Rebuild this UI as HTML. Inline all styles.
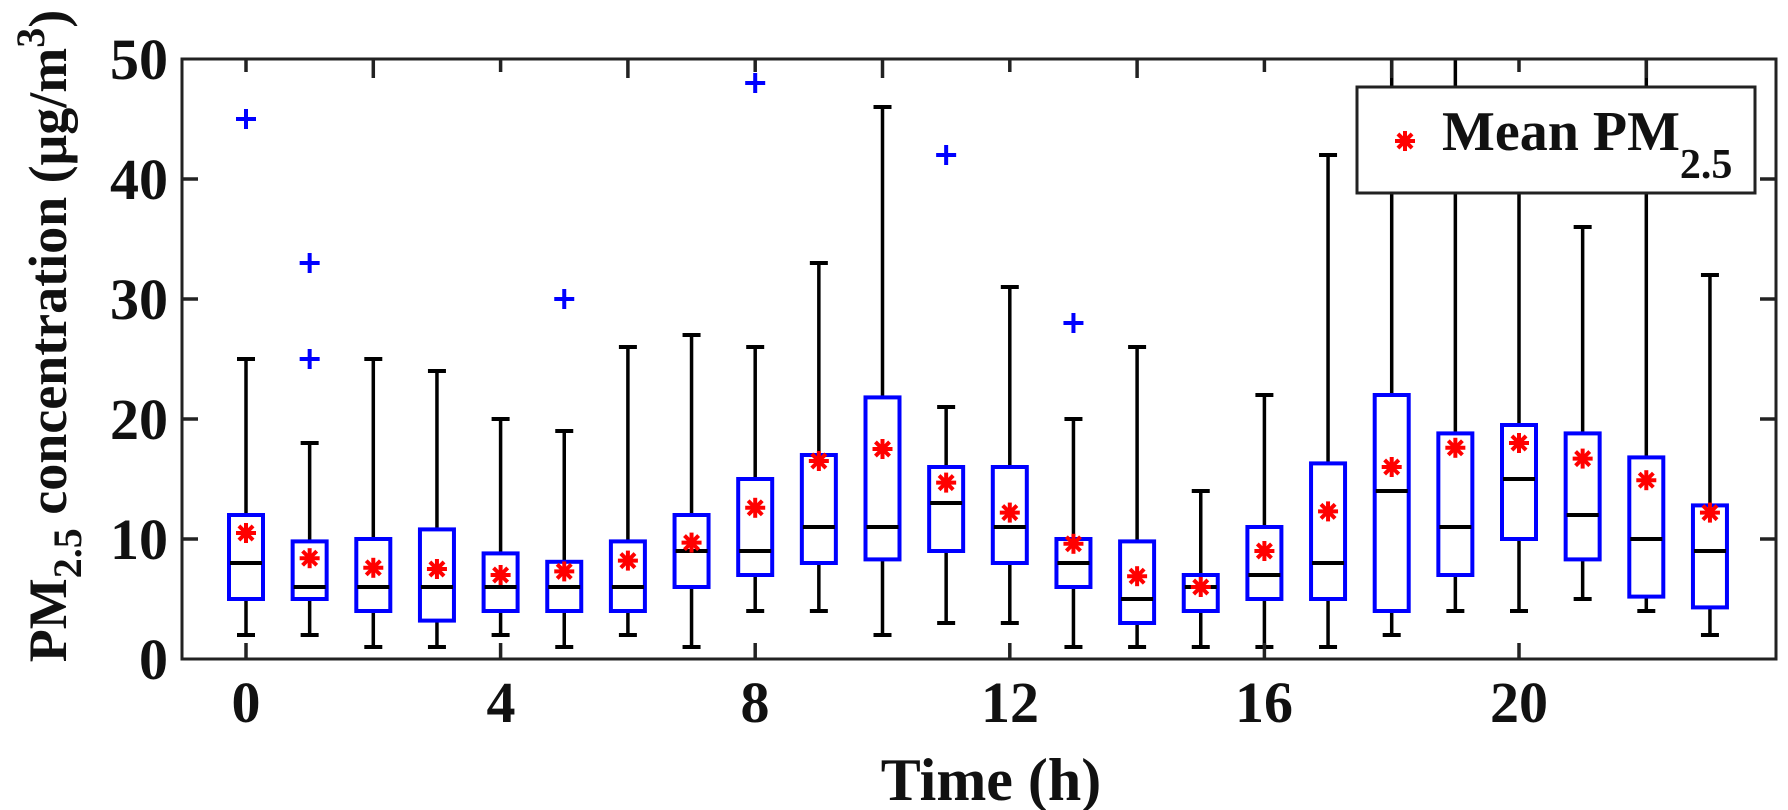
<!DOCTYPE html>
<html><head><meta charset="utf-8"><style>
html,body{margin:0;padding:0;background:#fff;}
svg{display:block;}
text{font-family:"Liberation Serif",serif;font-weight:bold;fill:#111;}
</style></head><body>
<svg id="s" width="1788" height="810" xmlns="http://www.w3.org/2000/svg">
<defs><clipPath id="c"><rect x="182" y="59" width="1594" height="600"/></clipPath></defs>
<g id="plot" clip-path="url(#c)"></g>
<rect x="182" y="59" width="1594" height="600" fill="none" stroke="#222" stroke-width="3"/>
<g id="ticks" stroke="#222" stroke-width="3"></g>
<g font-size="58" text-anchor="end">
<text x="168" y="679">0</text><text x="168" y="559">10</text><text x="168" y="439">20</text>
<text x="168" y="319">30</text><text x="168" y="199">40</text><text x="168" y="79">50</text>
</g>
<g font-size="58" text-anchor="middle">
<text x="246" y="722">0</text><text x="501" y="722">4</text><text x="755" y="722">8</text>
<text x="1010" y="722">12</text><text x="1264" y="722">16</text><text x="1519" y="722">20</text>
</g>
<text x="991" y="800" font-size="60" text-anchor="middle">Time (h)</text>
<text transform="translate(66,336) rotate(-90)" font-size="54" text-anchor="middle">PM<tspan font-size="40" dy="15">2.5</tspan><tspan dy="-15"> concentration (μg/m</tspan><tspan font-size="40" dy="-22">3</tspan><tspan dy="22">)</tspan></text>
<rect x="1357" y="87" width="398" height="106" fill="#fff" stroke="#222" stroke-width="3"/>
<g id="leg"></g>
<text x="1442" y="150" font-size="56">Mean PM<tspan font-size="42" dy="28">2.5</tspan></text>
</svg>
<script>
var d=[[2,5,8,12,25,10.5,[45]],[2,5,6,9.8,18,8.4,[25,33]],[1,4,6,10,25,7.6,[]],[1,3.2,6,10.8,24,7.5,[]],
[2,4,6,8.8,20,7,[]],[1,4,6,8.1,19,7.3,[30]],[2,4,6,9.8,26,8.2,[]],[1,6,9,12,27,9.7,[]],
[4,7,9,15,26,12.6,[48]],[4,8,11,17,33,16.5,[]],[2,8.3,11,21.8,46,17.5,[]],[3,9,13,16,21,14.7,[42]],
[3,8,11,16,31,12.2,[]],[1,6,8,10,20,9.6,[28]],[1,3,5,9.8,26,6.9,[]],[1,4,6,7,14,6,[]],
[1,5,7,11,22,9,[]],[1,5,8,16.3,42,12.3,[]],[2,4,14,22,55,16,[]],[4,7,11,18.8,55,17.6,[]],
[4,10,15,19.5,39,18,[]],[5,8.3,12,18.8,36,16.7,[]],[4,5.2,10,16.8,55,14.9,[]],[2,4.3,9,12.8,32,12.2,[40]]];
function X(h){return 246+63.65*h;}function Y(v){return 659-12*v;}
function ln(x1,y1,x2,y2,c,w){return '<line x1="'+x1+'" y1="'+y1+'" x2="'+x2+'" y2="'+y2+'" stroke="'+c+'" stroke-width="'+(w||3.5)+'"/>';}
function star(x,y){var s='',r=10;for(var a=0;a<4;a++){var t=a*Math.PI/4;s+=ln(x-r*Math.cos(t),y-r*Math.sin(t),x+r*Math.cos(t),y+r*Math.sin(t),'#f00',4);}return s;}
var g='';
d.forEach(function(b,h){var x=X(h);
g+=ln(x,Y(b[0]),x,Y(b[1]),'#000')+ln(x,Y(b[3]),x,Y(b[4]),'#000');
g+=ln(x-9,Y(b[0]),x+9,Y(b[0]),'#000',4)+ln(x-9,Y(b[4]),x+9,Y(b[4]),'#000',4);
g+='<rect x="'+(x-17)+'" y="'+Y(b[3])+'" width="34" height="'+(Y(b[1])-Y(b[3]))+'" fill="none" stroke="#00f" stroke-width="4"/>';
g+=ln(x-16,Y(b[2]),x+16,Y(b[2]),'#000',4);
b[6].forEach(function(o){g+=ln(x-10,Y(o),x+10,Y(o),'#00f',4)+ln(x,Y(o)-10,x,Y(o)+10,'#00f',4);});
g+=star(x,Y(b[5]));});
document.getElementById('plot').innerHTML=g;
var t='';
for(var v=10;v<50;v+=10){t+=ln(182,Y(v),198,Y(v),'#222')+ln(1760,Y(v),1776,Y(v),'#222');}
for(var h=0;h<=20;h+=4){t+=ln(X(h),659,X(h),643,'#222');}
for(var h=0;h<=22;h+=2){t+=ln(X(h),59,X(h),(h%4==2?78:72),'#222');}
document.getElementById('ticks').innerHTML=t;
document.getElementById('leg').innerHTML=star(1405,141);
</script>
</body></html>
